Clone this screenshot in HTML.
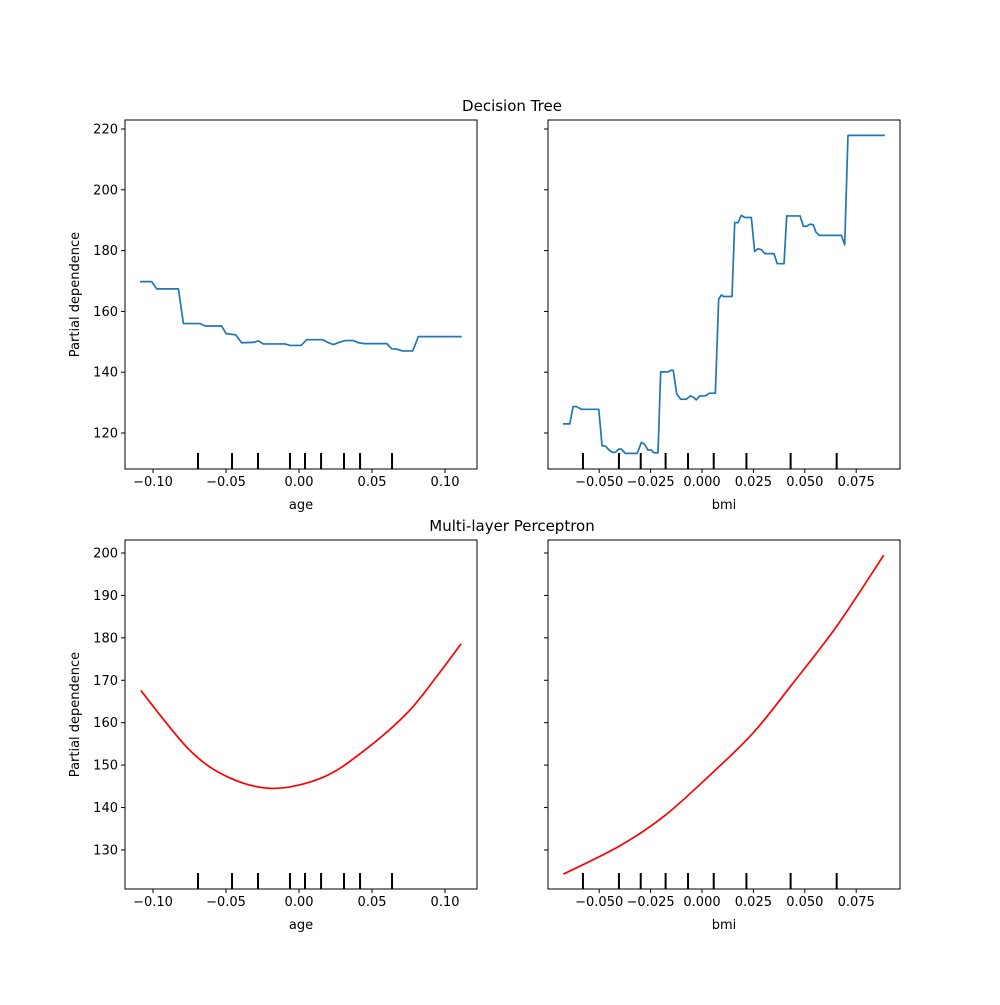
<!DOCTYPE html>
<html><head><meta charset="utf-8"><style>
body{margin:0;background:#fff}
svg text{font-family:"DejaVu Sans","Liberation Sans",sans-serif;font-size:13px;fill:#000}
</style></head><body>
<svg id="fig" width="1000" height="1000" viewBox="0 0 1000 1000" xmlns="http://www.w3.org/2000/svg">
<rect width="1000" height="1000" fill="#fff"/>
<text x="512" y="111" text-anchor="middle" style="font-size:15px">Decision Tree</text>
<text x="512" y="531" text-anchor="middle" style="font-size:15px">Multi-layer Perceptron</text>
</svg>
<script>
// Decision tree - age
const dtAgeX=[-0.1089,-0.1009,-0.0975,-0.0826,-0.0792,-0.0678,-0.0644,-0.0530,-0.0500,-0.0434,-0.0393,-0.0313,-0.0279,-0.0244,-0.0096,-0.0062,0.0014,0.0053,0.0087,0.0162,0.0201,0.0235,0.0269,0.0315,0.0372,0.0406,0.0447,0.0601,0.0635,0.0669,0.0708,0.0779,0.0817,0.1114];
const dtAgeY=[169.8,169.8,167.4,167.4,156.0,156.0,155.2,155.2,152.7,152.3,149.7,149.8,150.3,149.3,149.3,148.8,148.8,150.7,150.7,150.7,149.7,149.1,149.7,150.4,150.4,149.7,149.4,149.4,147.7,147.6,147.0,147.0,151.7,151.7];
// Decision tree - bmi
const dtBmiX=[-0.0676,-0.0643,-0.0627,-0.0611,-0.0587,-0.0502,-0.0486,-0.0470,-0.0449,-0.0433,-0.0420,-0.0405,-0.0392,-0.0373,-0.0315,-0.0295,-0.0279,-0.0263,-0.0247,-0.0234,-0.0214,-0.0201,-0.0165,-0.0152,-0.0140,-0.0123,-0.0104,-0.0076,-0.0057,-0.0042,-0.0028,-0.0011,0.0016,0.0036,0.0065,0.0081,0.0094,0.0105,0.0146,0.0159,0.0175,0.0191,0.0208,0.0240,0.0256,0.0272,0.0289,0.0305,0.0350,0.0366,0.0399,0.0412,0.0477,0.0493,0.0509,0.0525,0.0541,0.0554,0.0570,0.0678,0.0694,0.0710,0.0889];
const dtBmiY=[123.0,123.0,128.7,128.7,127.8,127.8,115.8,115.7,114.2,113.6,113.7,114.7,114.7,113.3,113.3,116.9,116.3,114.4,114.4,113.5,113.5,140.1,140.1,140.6,140.6,132.9,131.1,131.1,132.2,131.8,130.9,132.2,132.2,133.1,133.1,164.0,165.4,164.9,164.9,189.2,189.2,191.6,190.9,190.9,179.7,180.6,180.3,179.0,179.0,175.7,175.7,191.4,191.4,188.0,188.0,188.7,188.5,186.1,185.0,185.0,181.9,217.9,217.9];
// MLP
const mlpAgeX=[-0.1084,-0.0751,-0.0481,-0.0176,0.0162,0.0434,0.0738,0.0941,0.1110];
const mlpAgeY=[167.6,153.6,147.1,144.5,147.1,153.1,162.2,170.8,178.6];
const mlpBmiX=[-0.0674,-0.0402,-0.0186,0.0031,0.0247,0.0439,0.0656,0.0884];
const mlpBmiY=[124.3,130.9,137.9,147.3,157.5,169.1,182.8,199.5];
// rug deciles
const rugAge=[-0.0692,-0.0459,-0.0281,-0.0062,0.0041,0.0151,0.0308,0.0418,0.0637];
const rugBmi=[-0.0579,-0.0404,-0.0298,-0.0177,-0.0068,0.0057,0.0216,0.0431,0.0655];
const ticksAge=[-0.10,-0.05,0,0.05,0.10];
const ticksAgeLbl=["\u22120.10","\u22120.05","0.00","0.05","0.10"];
const ticksBmi=[-0.05,-0.025,0,0.025,0.05,0.075];
const ticksBmiLbl=["\u22120.050","\u22120.025","0.000","0.025","0.050","0.075"];
const ticksYTop=[120,140,160,180,200,220];
const ticksYBot=[130,140,150,160,170,180,190,200];

const NS="http://www.w3.org/2000/svg";
const svg=document.getElementById('fig');
function mk(tag,attrs,parent){const e=document.createElementNS(NS,tag);for(const k in attrs)e.setAttribute(k,attrs[k]);(parent||svg).appendChild(e);return e;}

function panel(name,box,xd,yd,xt,xtl,yt,showY,xlabel,rug,lx,ly,color,smooth){
  const [L,T,R,B]=box;
  const sx=v=>L+(v-xd[0])/(xd[1]-xd[0])*(R-L);
  const sy=v=>B-(v-yd[0])/(yd[1]-yd[0])*(B-T);
  const g=mk('g',{});
  
  
  // line
  let pts=lx.map((v,i)=>[sx(v),sy(ly[i])]);
  let d;
  if(smooth){
    d='M'+pts[0][0]+','+pts[0][1];
    for(let i=0;i<pts.length-1;i++){
      const p0=pts[Math.max(0,i-1)],p1=pts[i],p2=pts[i+1],p3=pts[Math.min(pts.length-1,i+2)];
      const c1=[p1[0]+(p2[0]-p0[0])/6,p1[1]+(p2[1]-p0[1])/6];
      const c2=[p2[0]-(p3[0]-p1[0])/6,p2[1]-(p3[1]-p1[1])/6];
      d+=' C'+c1[0]+','+c1[1]+' '+c2[0]+','+c2[1]+' '+p2[0]+','+p2[1];
    }
  } else d='M'+pts.map(p=>p[0]+','+p[1]).join(' L');
  const line=mk('path',{d:d,fill:'none',stroke:color,'stroke-width':1.7,'stroke-linejoin':'round'},g);
  
  
  // rug
  rug.forEach(v=>{
    const r=mk('line',{x1:sx(v),x2:sx(v),y1:B-16,y2:B,stroke:'#000','stroke-width':2},g);
    
    
  });
  // frame
  const f=mk('rect',{x:L,y:T,width:R-L,height:B-T,fill:'none',stroke:'#000','stroke-width':1},g);
  
  
  xt.forEach((v,i)=>{
    mk('line',{x1:sx(v),x2:sx(v),y1:B,y2:B+4,stroke:'#000'},g);
    const t=mk('text',{x:sx(v),y:B+17,'text-anchor':'middle'},g);
    t.textContent=xtl[i];
    
    
  });
  yt.forEach(v=>{
    mk('line',{x1:L-4,x2:L,y1:sy(v),y2:sy(v),stroke:'#000'},g);
    if(showY){
      const t=mk('text',{x:L-7,y:sy(v)+4.5,'text-anchor':'end'},g);
      t.textContent=String(v);
      
      
    }
  });
  const xl=mk('text',{x:(L+R)/2,y:B+40,'text-anchor':'middle'},g);
  xl.textContent=xlabel;
  
  
  if(showY){
    const yl=mk('text',{x:0,y:0,'text-anchor':'middle',transform:'translate('+(L-46)+','+((T+B)/2)+') rotate(-90)'},g);
    yl.textContent='Partial dependence';
    
    
  }
}
const xdAge=[-0.1192,0.1219], xdBmi=[-0.0749,0.0963];
const ydTop=[108.16,222.96], ydBot=[120.8,203.06];
panel('dt-age-panel',[125,120,477,469],xdAge,ydTop,ticksAge,ticksAgeLbl,ticksYTop,true,'age',rugAge,dtAgeX,dtAgeY,'#1f77b4',false);
panel('dt-bmi-panel',[548,120,900,469],xdBmi,ydTop,ticksBmi,ticksBmiLbl,ticksYTop,false,'bmi',rugBmi,dtBmiX,dtBmiY,'#1f77b4',false);
panel('mlp-age-panel',[125,540,477,889],xdAge,ydBot,ticksAge,ticksAgeLbl,ticksYBot,true,'age',rugAge,mlpAgeX,mlpAgeY,'#ff0000',true);
panel('mlp-bmi-panel',[548,540,900,889],xdBmi,ydBot,ticksBmi,ticksBmiLbl,ticksYBot,false,'bmi',rugBmi,mlpBmiX,mlpBmiY,'#ff0000',true);
</script>
</body></html>
